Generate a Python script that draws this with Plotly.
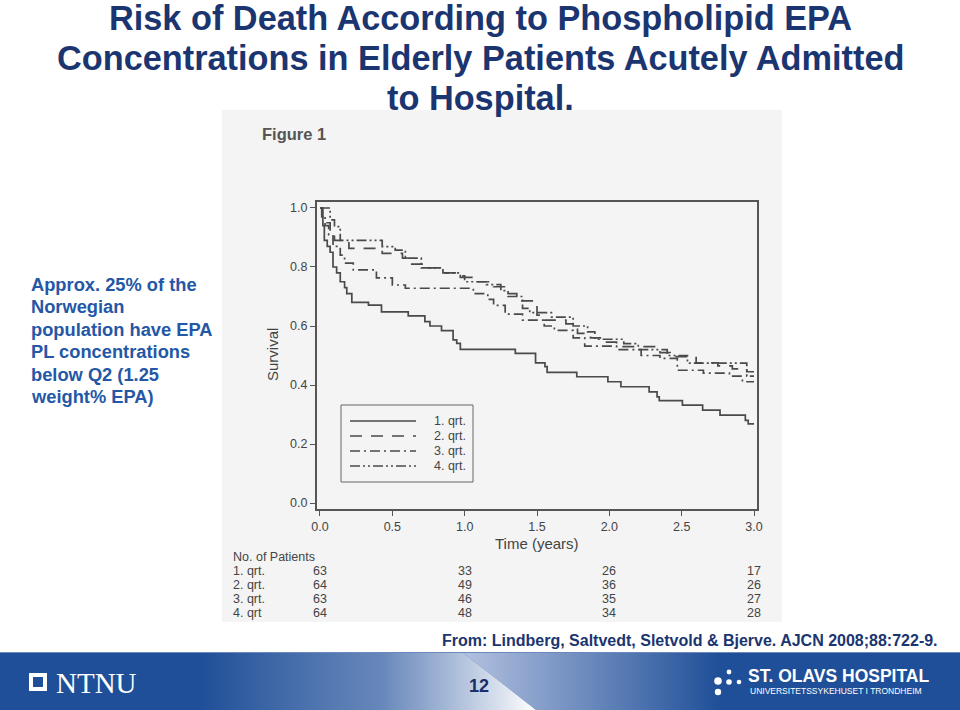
import base64
import plotly.graph_objects as go

# ---------------- data ----------------
legend_labels = ["1. qrt.", "2. qrt.", "3. qrt.", "4. qrt."]
table_labels = ["1. qrt.", "2. qrt.", "3. qrt.", "4. qrt"]
table_times = [0, 1, 2, 3]
at_risk_q1 = [63, 33, 26, 17]
at_risk_q2 = [64, 49, 36, 26]
at_risk_q3 = [63, 46, 35, 27]
at_risk_q4 = [64, 48, 34, 28]

x_ticks = [0.0, 0.5, 1.0, 1.5, 2.0, 2.5, 3.0]
y_ticks = [0.0, 0.2, 0.4, 0.6, 0.8, 1.0]

q1_t = [0, 0.012, 0.02, 0.03, 0.05, 0.07, 0.09, 0.115, 0.14, 0.17, 0.185, 0.22, 0.335, 0.425,
        0.61, 0.725, 0.76, 0.84, 0.92, 0.945, 0.97, 1.35, 1.49, 1.555, 1.57, 1.775, 1.99, 2.08,
        2.275, 2.33, 2.345, 2.505, 2.645, 2.765, 2.94, 2.96, 3.0]
q1_s = [1.0, 0.97, 0.94, 0.89, 0.87, 0.85, 0.80, 0.78, 0.75, 0.73, 0.71, 0.68, 0.671, 0.648,
        0.634, 0.615, 0.60, 0.584, 0.553, 0.541, 0.521, 0.507, 0.475, 0.462, 0.443, 0.428, 0.411, 0.394,
        0.377, 0.36, 0.347, 0.332, 0.315, 0.298, 0.28, 0.268, 0.268]

q2_t = [0, 0.02, 0.04, 0.07, 0.1, 0.2, 0.43, 0.57, 0.62, 0.72, 0.85, 0.95, 1.0, 1.08, 1.2, 1.3,
        1.36, 1.5, 1.55, 1.7, 1.78, 1.87, 1.95, 2.05, 2.35, 2.42, 2.6, 2.75, 2.85, 2.95, 3.0]
q2_s = [1.0, 0.97, 0.95, 0.92, 0.89, 0.863, 0.846, 0.83, 0.81, 0.797, 0.78, 0.77, 0.765, 0.75, 0.733, 0.71,
        0.685, 0.637, 0.62, 0.607, 0.575, 0.56, 0.545, 0.53, 0.51, 0.496, 0.475, 0.465, 0.455, 0.445, 0.445]

q3_t = [0, 0.015, 0.035, 0.06, 0.09, 0.14, 0.17, 0.23, 0.39, 0.5, 0.59, 1.06, 1.16, 1.2, 1.28, 1.4,
        1.55, 1.62, 1.75, 1.83, 2.05, 2.22, 2.35, 2.47, 2.65, 2.83, 2.92, 3.0]
q3_s = [1.0, 0.97, 0.94, 0.91, 0.87, 0.84, 0.813, 0.79, 0.763, 0.739, 0.728, 0.71, 0.69, 0.67, 0.64, 0.62,
        0.60, 0.585, 0.56, 0.532, 0.52, 0.50, 0.49, 0.45, 0.44, 0.43, 0.411, 0.411]

q4_t = [0, 0.07, 0.1, 0.14, 0.43, 0.52, 0.59, 0.7, 0.85, 0.97, 1.0, 1.15, 1.25, 1.3, 1.4, 1.45,
        1.6, 1.75, 1.85, 1.9, 2.1, 2.2, 2.4, 2.54, 2.9, 2.95, 3.0]
q4_s = [1.0, 0.96, 0.937, 0.89, 0.869, 0.857, 0.83, 0.797, 0.78, 0.765, 0.75, 0.74, 0.72, 0.70, 0.66, 0.645,
        0.63, 0.60, 0.58, 0.555, 0.54, 0.52, 0.50, 0.474, 0.474, 0.43, 0.43]

title_lines = ["Risk of Death According to Phospholipid EPA",
               "Concentrations in Elderly Patients Acutely Admitted",
               "to Hospital."]
note_lines = ["Approx. 25% of the", "Norwegian", "population have EPA",
              "PL concentrations", "below Q2 (1.25", "weight% EPA)"]

# ---------------- layout helpers ----------------
W, H = 960, 710
L, R, T, B = 317, 757, 202, 509


def fx(px):
    return (px - L) / (R - L)


def fy(py):
    return (B - py) / (B - T)


FONT = "Liberation Sans, Arial, sans-serif"
GRAY = "#444444"
LINE = "#4a4a4a"
NAVY = "#1b3570"
BLUE = "#2457a6"
PANEL = "#f4f4f4"

fig = go.Figure()
dashes = ["solid", "12px,9px", "10px,4px,2px,4px", "10px,3px,2px,3px,2px,3px"]
for name, t, s, d in zip(legend_labels, [q1_t, q2_t, q3_t, q4_t], [q1_s, q2_s, q3_s, q4_s], dashes):
    fig.add_trace(go.Scatter(x=t, y=s, mode="lines", name=name, showlegend=False,
                             line=dict(shape="hv", color=LINE, width=1.7, dash=d)))

annotations = []


def ann(text, px, py, size, color=GRAY, xanchor="left", bold=False, family=FONT, **kw):
    if bold:
        text = "<b>" + text + "</b>"
    annotations.append(dict(text=text, x=fx(px), y=fy(py), xref="paper", yref="paper",
                            xanchor=xanchor, yanchor="middle", showarrow=False,
                            font=dict(family=family, size=size, color=color), **kw))


# title
for line, py in zip(title_lines, [18, 58, 98]):
    ann(line, 480, py, 34.3, NAVY, "center", True)
# left note
for line, py in zip(note_lines, [284, 306.5, 329, 351.5, 374, 396.5]):
    ann(line, 29, py, 18.3, BLUE, "left", True)
ann("Figure 1", 260, 134, 16.5, "#555555", "left", True)
ann("Survival", 272, 355, 15, GRAY, "center", textangle=-90)
ann("Time (years)", 537, 543, 15, GRAY, "center")
ann("No. of Patients", 231, 557, 12.5, GRAY, "left")
row_y = [571, 585, 599, 613]
for lab, vals, py in zip(table_labels, [at_risk_q1, at_risk_q2, at_risk_q3, at_risk_q4], row_y):
    ann(lab, 231, py, 12.5, GRAY, "left")
    for t, v in zip(table_times, vals):
        annotations.append(dict(text=str(v), x=t, y=fy(py), xref="x", yref="paper",
                                xanchor="center", yanchor="middle", showarrow=False,
                                font=dict(family=FONT, size=12.5, color=GRAY)))
ann("From: Lindberg, Saltvedt, Sletvold &amp; Bjerve. AJCN 2008;88:722-9.", 940, 640, 16, NAVY, "right", True)
# footer texts
ann("NTNU", 54, 683, 29, "white", "left", family="Liberation Serif, Times New Roman, serif")
ann("12", 479, 686, 18, "#1b2d6b", "center", True)
ann("ST. OLAVS HOSPITAL", 746, 676, 17.5, "white", "left", True)
ann("UNIVERSITETSSYKEHUSET I TRONDHEIM", 748, 691, 8.5, "white", "left")

shapes = []


def rect(x0, y0, x1, y1, fill, layer="below", line=None):
    shapes.append(dict(type="rect", xref="paper", yref="paper", x0=fx(x0), x1=fx(x1), y0=fy(y0), y1=fy(y1),
                       fillcolor=fill, line=dict(width=0) if line is None else line, layer=layer))


def circ(cx, cy, r, fill):
    shapes.append(dict(type="circle", xref="paper", yref="paper", x0=fx(cx - r), x1=fx(cx + r),
                       y0=fy(cy + r), y1=fy(cy - r), fillcolor=fill, line=dict(width=0), layer="above"))


rect(222, 110, 782, 622, PANEL)

# legend drawn by hand (box, sample lines, labels)
rect(341, 405, 473, 482, PANEL, "above", dict(color="#666666", width=1))
for lab, d, py in zip(legend_labels, dashes, [421, 436, 451, 466]):
    shapes.append(dict(type="line", xref="paper", yref="paper", x0=fx(350), x1=fx(416), y0=fy(py), y1=fy(py),
                       line=dict(color=LINE, width=1.7, dash=d), layer="above"))
    ann(lab, 432, py, 12.5, GRAY, "left")

# NTNU logo square
rect(29, 673, 47, 691, "white", "above")
rect(33, 677, 43, 687, "#1f4f98", "above")
# St. Olavs dots
circ(729, 672, 2.4, "white")
circ(718, 681, 3.8, "white")
circ(729, 682, 2.8, "white")
circ(739, 682, 2.3, "white")
circ(718, 692, 3.2, "white")

# footer bar gradient as svg image
svg = """<svg xmlns='http://www.w3.org/2000/svg' width='960' height='58' viewBox='0 0 960 58' preserveAspectRatio='none'>
<defs>
<linearGradient id='a' gradientUnits='userSpaceOnUse' x1='200' y1='0' x2='530' y2='0'>
<stop offset='0' stop-color='#ffffff' stop-opacity='0'/>
<stop offset='0.55' stop-color='#eef0fa' stop-opacity='0.35'/>
<stop offset='1' stop-color='#ffffff' stop-opacity='0.97'/>
</linearGradient>
<linearGradient id='b' gradientUnits='userSpaceOnUse' x1='470' y1='0' x2='720' y2='0'>
<stop offset='0' stop-color='#dfe3f5' stop-opacity='0.75'/>
<stop offset='1' stop-color='#dfe3f5' stop-opacity='0'/>
</linearGradient>
</defs>
<rect width='960' height='58' fill='#1f4f98'/>
<polygon points='0,0 462,0 536,58 0,58' fill='url(#a)'/>
<polygon points='462,0 760,0 760,58 536,58' fill='url(#b)'/>
<rect width='960' height='1' fill='#6d88bd'/>
</svg>"""
src = "data:image/svg+xml;base64," + base64.b64encode(svg.encode()).decode()
images = [dict(source=src, xref="paper", yref="paper", x=fx(0), y=fy(652), sizex=960 / (R - L),
               sizey=58 / (B - T), xanchor="left", yanchor="top", sizing="stretch", layer="below")]

fig.update_layout(
    width=W, height=H, margin=dict(l=L, r=W - R, t=T, b=H - B, pad=0),
    paper_bgcolor="white", plot_bgcolor=PANEL,
    font=dict(family=FONT, color=GRAY),
    showlegend=False,
    annotations=annotations, shapes=shapes, images=images,
)
fig.update_xaxes(range=[-0.0207, 3.0207], tickvals=x_ticks, tickformat=".1f", showgrid=False, zeroline=False,
                 showline=True, mirror=True, linecolor="#555555", linewidth=2, ticks="outside", ticklen=5,
                 tickcolor="#555555", tickfont=dict(family=FONT, size=12.5, color=GRAY))
fig.update_yaxes(range=[-0.0203, 1.0203], tickvals=y_ticks, tickformat=".1f", showgrid=False, zeroline=False,
                 showline=True, mirror=True, linecolor="#555555", linewidth=2, ticks="outside", ticklen=5,
                 tickcolor="#555555", tickfont=dict(family=FONT, size=12.5, color=GRAY))

fig.write_html("out.html", config={"displayModeBar": False},
               post_script="document.body.style.margin='0';document.body.style.overflow='hidden';")
